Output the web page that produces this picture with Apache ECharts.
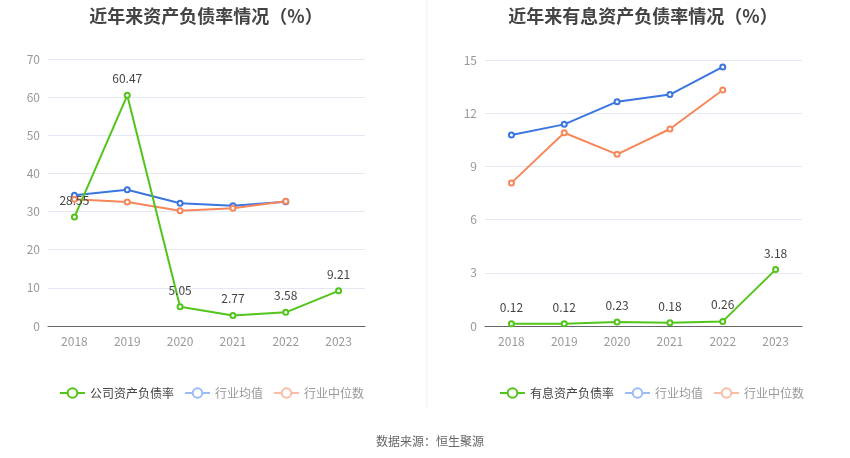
<!DOCTYPE html>
<html><head><meta charset="utf-8">
<script src="https://cdn.jsdelivr.net/npm/echarts@6/dist/echarts.min.js"></script>
<style>html,body{margin:0;padding:0;background:#fff}#c{width:850px;height:458px}</style>
</head><body><div id="c"></div>
<script>
const years = ['2018','2019','2020','2021','2022','2023'];
const companyDebt = [28.55, 60.47, 5.05, 2.77, 3.58, 9.21];
const industryAvgDebt = [34.3, 35.7, 32.2, 31.5, 32.6, null];
const industryMedDebt = [33.2, 32.5, 30.2, 30.9, 32.7, null];
const interestDebt = [0.12, 0.12, 0.23, 0.18, 0.26, 3.18];
const industryAvgInt = [10.77, 11.37, 12.65, 13.05, 14.61, null];
const industryMedInt = [8.07, 10.9, 9.68, 11.11, 13.31, null];
const leftTicks = {min:0, max:70, interval:10};
const rightTicks = {min:0, max:15, interval:3};

const GREEN='#52c41a', BLUE='#3a75e0', ORANGE='#f7875a';
const font='"Noto Sans CJK SC","Noto Sans",sans-serif';
const chart = echarts.init(document.getElementById('c'));
function xAx(i){return {type:'category',gridIndex:i,data:years,boundaryGap:true,
  axisLine:{lineStyle:{color:'#666'}},axisTick:{show:false},
  axisLabel:{color:'#999',fontSize:12,margin:9,fontFamily:font}};}
function yAx(i,t){return {type:'value',gridIndex:i,min:t.min,max:t.max,interval:t.interval,
  axisLine:{show:false},axisTick:{show:false},
  axisLabel:{color:'#999',fontSize:12,margin:8,fontFamily:font},
  splitLine:{lineStyle:{color:'#e3e8f3'}}};}
function ser(name,data,color,i,label){return {name,type:'line',data,xAxisIndex:i,yAxisIndex:i,
  symbol:'emptyCircle',symbolSize:5,lineStyle:{width:2,color},itemStyle:{color,borderWidth:2},
  label:{show:label,position:'top',distance:7,color:'#444',fontSize:12,fontFamily:font},z:label?3:2};}
chart.setOption({
  animation:false,
  title:[
    {text:'近年来资产负债率情况（%）',left:201,top:2,textAlign:'center',textStyle:{fontSize:18,fontWeight:'bold',color:'#444',fontFamily:font}},
    {text:'近年来有息资产负债率情况（%）',left:638,top:2,textAlign:'center',textStyle:{fontSize:18,fontWeight:'bold',color:'#444',fontFamily:font}},
    {text:'数据来源：恒生聚源',left:425,top:430,textAlign:'center',textStyle:{fontSize:12,fontWeight:'normal',color:'#666',fontFamily:font}}
  ],
  legend:[
    {left:54,top:382,itemWidth:25,itemHeight:12,itemGap:10,textStyle:{fontSize:12,color:'#999',fontFamily:font},
     data:[{name:'公司资产负债率',textStyle:{color:'#444'}},
           {name:'行业均值',itemStyle:{color:'#9dbcf5'},lineStyle:{color:'#9dbcf5'}},
           {name:'行业中位数',itemStyle:{color:'#f9bca6'},lineStyle:{color:'#f9bca6'}}]},
    {left:494,top:382,itemWidth:25,itemHeight:12,itemGap:10,textStyle:{fontSize:12,color:'#999',fontFamily:font},
     data:[{name:'有息资产负债率',textStyle:{color:'#444'}},
           {name:'行业均值 ',itemStyle:{color:'#9dbcf5'},lineStyle:{color:'#9dbcf5'}},
           {name:'行业中位数 ',itemStyle:{color:'#f9bca6'},lineStyle:{color:'#f9bca6'}}],
     formatter:n=>n.trim()}
  ],
  graphic:[{type:'line',shape:{x1:427,y1:0,x2:427,y2:408},style:{stroke:'#f0f0f0',lineWidth:1}}],
  grid:[{left:48,width:317,top:59,height:267},{left:485,width:317,top:60,height:266}],
  xAxis:[xAx(0),xAx(1)],
  yAxis:[yAx(0,leftTicks),yAx(1,rightTicks)],
  series:[
    ser('行业均值',industryAvgDebt,BLUE,0,false),
    ser('行业中位数',industryMedDebt,ORANGE,0,false),
    ser('公司资产负债率',companyDebt,GREEN,0,true),
    ser('行业均值 ',industryAvgInt,BLUE,1,false),
    ser('行业中位数 ',industryMedInt,ORANGE,1,false),
    ser('有息资产负债率',interestDebt,GREEN,1,true)
  ]
});
</script></body></html>
